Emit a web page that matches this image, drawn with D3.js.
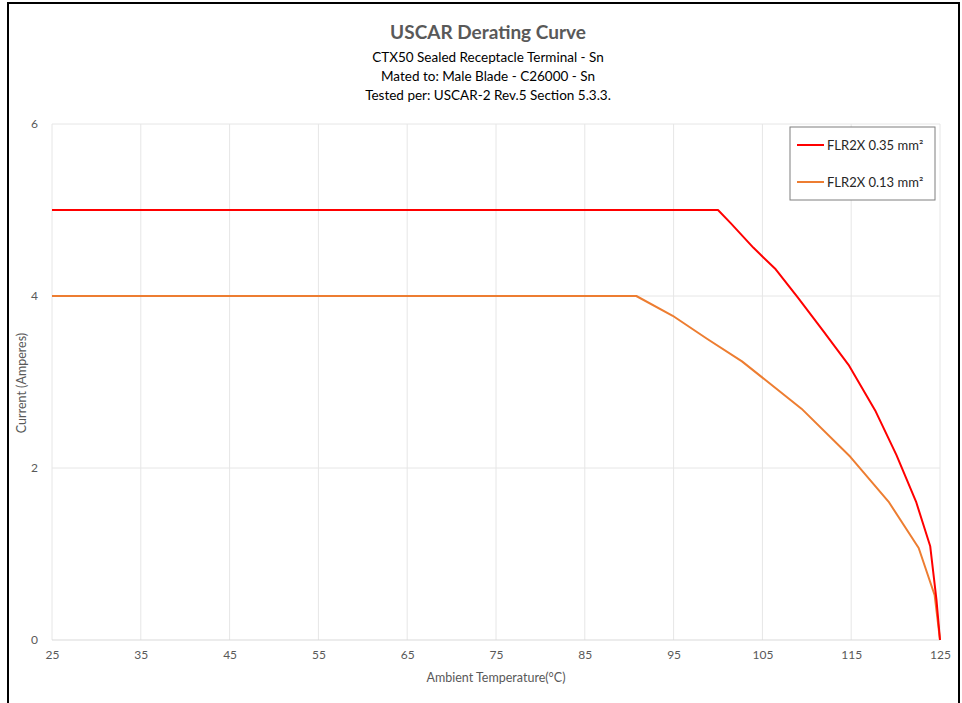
<!DOCTYPE html>
<html>
<head>
<meta charset="utf-8">
<script src="https://cdn.jsdelivr.net/npm/d3@7"></script>
<style>
  body { margin: 0; background: #fff; }
  svg { font-family: Lato, "Open Sans", sans-serif; }
</style>
</head>
<body>
<svg id="chart"></svg>
<script>
// data
const temps035 = [25, 100, 101.4, 104, 106.5, 109, 111.8, 114.7, 117.7, 120.1, 122.3, 123.9, 124.6, 125];
const amps035  = [5, 5, 4.85, 4.56, 4.31, 3.98, 3.6, 3.2, 2.67, 2.15, 1.61, 1.09, 0.47, 0];
const temps013 = [25, 90.8, 94.9, 98.8, 102.7, 109.4, 114.9, 119.2, 122.6, 124.4, 125];
const amps013  = [4, 4, 3.77, 3.5, 3.24, 2.69, 2.13, 1.61, 1.07, 0.52, 0];
const seriesNames = ["FLR2X 0.35 mm²", "FLR2X 0.13 mm²"];
const seriesColors = ["#ff0000", "#ed7d31"];
const xTicks = [25, 35, 45, 55, 65, 75, 85, 95, 105, 115, 125];
const yTicks = [0, 2, 4, 6];
const titleText = "USCAR Derating Curve";
const subtitleLines = [
  "CTX50 Sealed Receptacle Terminal - Sn",
  "Mated to: Male Blade - C26000 - Sn",
  "Tested per: USCAR-2 Rev.5 Section 5.3.3."
];

const width = 962, height = 703;
const margin = { top: 124, left: 52, bottom: 63, right: 22 };
const iwidth = width - margin.left - margin.right;
const iheight = height - margin.top - margin.bottom;

const svg = d3.select("#chart").attr("width", width).attr("height", height);

// outer frame
svg.append("rect")
  .attr("x", 8).attr("y", 3)
  .attr("width", 951).attr("height", 720)
  .attr("fill", "none").attr("stroke", "#000").attr("stroke-width", 2);

const g = svg.append("g").attr("transform", `translate(${margin.left},${margin.top})`);

const x = d3.scaleLinear().domain([25, 125]).range([0, iwidth]);
const y = d3.scaleLinear().domain([0, 6]).range([iheight, 0]);

// gridlines
g.append("g")
  .selectAll("line.vg").data(xTicks).enter().append("line")
  .attr("x1", d => x(d)).attr("x2", d => x(d))
  .attr("y1", 0).attr("y2", iheight)
  .attr("stroke", "#e6e6e6").attr("stroke-width", 1);
g.append("g")
  .selectAll("line.hg").data(yTicks).enter().append("line")
  .attr("x1", 0).attr("x2", iwidth)
  .attr("y1", d => y(d)).attr("y2", d => y(d))
  .attr("stroke", d => d === 0 ? "#d9d9d9" : "#e6e6e6").attr("stroke-width", 1);

// axes (labels only)
const xAxis = g.append("g")
  .attr("transform", `translate(0,${iheight})`)
  .call(d3.axisBottom(x).tickValues(xTicks).tickFormat(d3.format("d")).tickSize(0).tickPadding(10));
const yAxis = g.append("g")
  .call(d3.axisLeft(y).tickValues(yTicks).tickFormat(d3.format("d")).tickSize(0).tickPadding(14));
[xAxis, yAxis].forEach(a => {
  a.select(".domain").remove();
  a.selectAll("text").attr("fill", "#595959").style("font-size", "12px")
    .style("font-family", "Lato, sans-serif");
});

// lines
const line = d3.line().x(d => x(d[0])).y(d => y(d[1]));
const series = [
  d3.zip(temps035, amps035),
  d3.zip(temps013, amps013)
];
series.slice().reverse().forEach((s, i) => {
  const idx = series.length - 1 - i;
  g.append("path").datum(s)
    .attr("fill", "none")
    .attr("stroke", seriesColors[idx])
    .attr("stroke-width", 2)
    .attr("stroke-linejoin", "round")
    .attr("d", line);
});

// titles
svg.append("text")
  .attr("x", 488).attr("y", 39)
  .attr("text-anchor", "middle")
  .attr("fill", "#595959")
  .style("font-size", "19px").style("font-weight", "bold")
  .text(titleText);
svg.selectAll("text.sub").data(subtitleLines).enter().append("text")
  .attr("class", "sub")
  .attr("x", 488).attr("y", (d, i) => 62 + i * 19)
  .attr("text-anchor", "middle")
  .attr("fill", "#000")
  .style("font-size", "13.5px")
  .text(d => d);

// axis titles
svg.append("text")
  .attr("x", 496).attr("y", 682)
  .attr("text-anchor", "middle")
  .attr("fill", "#595959")
  .style("font-size", "12.5px")
  .text("Ambient Temperature(°C)");
svg.append("text")
  .attr("transform", "translate(26,383) rotate(-90)")
  .attr("text-anchor", "middle")
  .attr("fill", "#595959")
  .style("font-size", "12.5px")
  .text("Current (Amperes)");

// legend
const legend = svg.append("g").attr("transform", "translate(790,127)");
legend.append("rect")
  .attr("width", 145).attr("height", 73)
  .attr("fill", "#fff").attr("stroke", "#7f7f7f").attr("stroke-width", 1);
seriesNames.forEach((name, i) => {
  const ly = 18 + i * 37;
  legend.append("line")
    .attr("x1", 7).attr("x2", 34).attr("y1", ly).attr("y2", ly)
    .attr("stroke", seriesColors[i]).attr("stroke-width", 2);
  legend.append("text")
    .attr("x", 37).attr("y", ly + 4.5)
    .attr("fill", "#262626")
    .style("font-size", "13px")
    .text(name);
});
</script>
</body>
</html>
